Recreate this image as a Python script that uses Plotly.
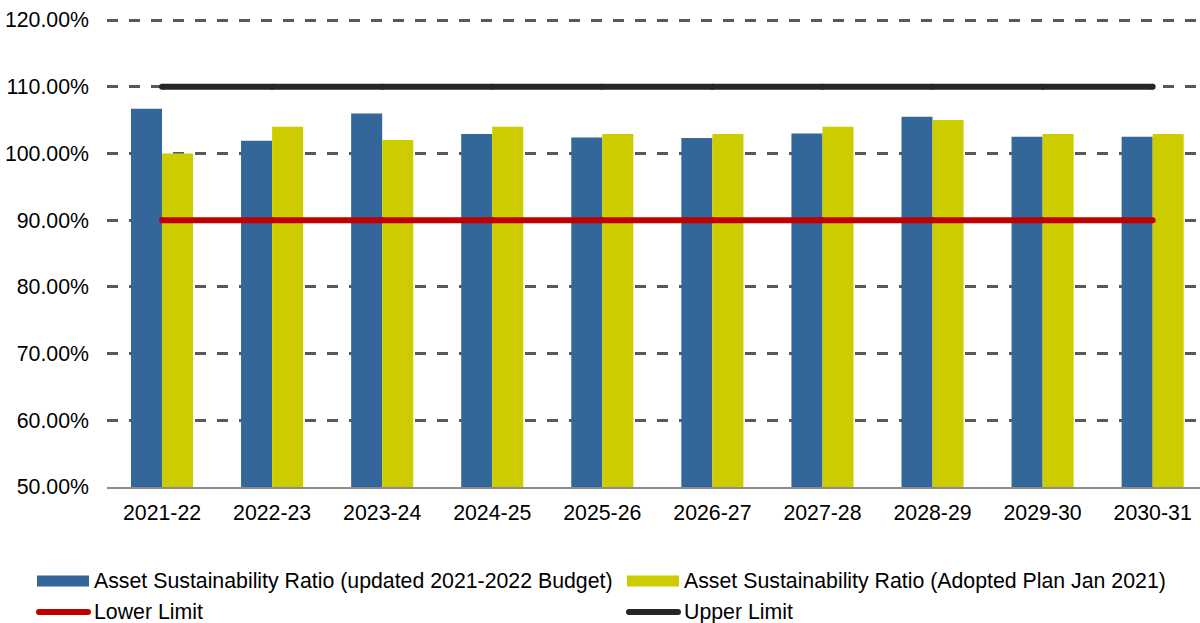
import plotly.graph_objects as go

# Financial years shown along the x-axis
years = ["2021-22", "2022-23", "2023-24", "2024-25", "2025-26",
         "2026-27", "2027-28", "2028-29", "2029-30", "2030-31"]

# Asset sustainability ratio (%), updated 2021-2022 budget
ratio_updated = [106.7, 101.9, 106.0, 102.9, 102.4, 102.3, 103.0, 105.5, 102.5, 102.5]
# Asset sustainability ratio (%), adopted plan Jan 2021
ratio_adopted = [100.0, 104.0, 102.0, 104.0, 102.9, 102.9, 104.0, 105.0, 102.9, 102.9]
# Target band limits (%)
lower_limit = [90.0] * len(years)
upper_limit = [110.0] * len(years)

y_ticks = [50, 60, 70, 80, 90, 100, 110, 120]
y_tick_text = [f"{v:.2f}%" for v in y_ticks]

series_names = [
    "Asset Sustainability Ratio (updated 2021-2022 Budget)",
    "Asset Sustainability Ratio (Adopted Plan Jan 2021)",
    "Lower Limit",
    "Upper Limit",
]

BLUE = "#336699"
YELLOW = "#CCCC00"
RED = "#C00000"
DARK = "#262626"
FONT = "Liberation Sans, Arial, sans-serif"
FS = 21.3

W, H = 1200, 623
M_L, M_R, M_T, M_B = 107, 0, 18, 136

fig = go.Figure()
fig.add_trace(go.Bar(x=years, y=ratio_updated, name=series_names[0],
                     marker=dict(color=BLUE, line=dict(width=0))))
fig.add_trace(go.Bar(x=years, y=ratio_adopted, name=series_names[1],
                     marker=dict(color=YELLOW, line=dict(width=0))))
fig.add_trace(go.Scatter(x=years, y=lower_limit, name=series_names[2], mode="lines+markers",
                         line=dict(color=RED, width=6),
                         marker=dict(color=RED, size=6, line=dict(width=0))))
fig.add_trace(go.Scatter(x=years, y=upper_limit, name=series_names[3], mode="lines+markers",
                         line=dict(color=DARK, width=6),
                         marker=dict(color=DARK, size=6, line=dict(width=0))))


def px_x(px):
    return (px - M_L) / (W - M_L - M_R)


def px_y(py):
    return (H - M_B - py) / (H - M_T - M_B)


# Legend drawn below the plot: two columns, two rows
legend_cols = [37, 627]
legend_rows = [581, 612]
kinds = ["bar", "bar", "line", "line"]
colors = [BLUE, YELLOW, RED, DARK]
shapes = []
annotations = []
for i, (name, kind, col) in enumerate(zip(series_names, kinds, colors)):
    x0 = legend_cols[i % 2]
    yc = legend_rows[i // 2]
    if kind == "bar":
        shapes.append(dict(type="rect", xref="paper", yref="paper",
                           x0=px_x(x0), x1=px_x(x0 + 52),
                           y0=px_y(yc - 5.5), y1=px_y(yc + 5.5),
                           fillcolor=col, line=dict(width=0), layer="above"))
    else:
        shapes.append(dict(type="line", xref="paper", yref="paper",
                           x0=px_x(x0 + 2), x1=px_x(x0 + 51),
                           y0=px_y(yc), y1=px_y(yc),
                           line=dict(color=col, width=6), layer="above"))
        for cx in (x0 + 2, x0 + 51):
            shapes.append(dict(type="circle", xref="paper", yref="paper",
                               x0=px_x(cx - 3), x1=px_x(cx + 3),
                               y0=px_y(yc - 3), y1=px_y(yc + 3),
                               fillcolor=col, line=dict(width=0), layer="above"))
    annotations.append(dict(text=name, xref="paper", yref="paper",
                            x=px_x(x0 + 55), y=px_y(yc), xanchor="left", yanchor="middle",
                            showarrow=False, font=dict(family=FONT, size=FS, color="#000000")))

fig.update_layout(
    width=W, height=H,
    margin=dict(l=M_L, r=M_R, t=M_T, b=M_B, pad=0),
    paper_bgcolor="white", plot_bgcolor="white",
    barmode="group", bargap=0.436, bargroupgap=0,
    showlegend=False,
    font=dict(family=FONT, size=FS, color="#000000"),
    shapes=shapes, annotations=annotations,
)
fig.update_xaxes(
    range=[-0.5, 9.43], showgrid=False, showline=True, linecolor="#8c8c8c", linewidth=2,
    ticks="", tickfont=dict(family=FONT, size=FS, color="#000000"), ticklabelstandoff=5,
)
fig.update_yaxes(
    range=[50, 120.3], tickvals=y_ticks, ticktext=y_tick_text,
    showgrid=True, gridcolor="#595959", gridwidth=2.5, griddash="11px,11px",
    zeroline=False, showline=False, ticks="",
    tickfont=dict(family=FONT, size=FS, color="#000000"), ticklabelstandoff=17,
)

fig.write_html("out.html")
